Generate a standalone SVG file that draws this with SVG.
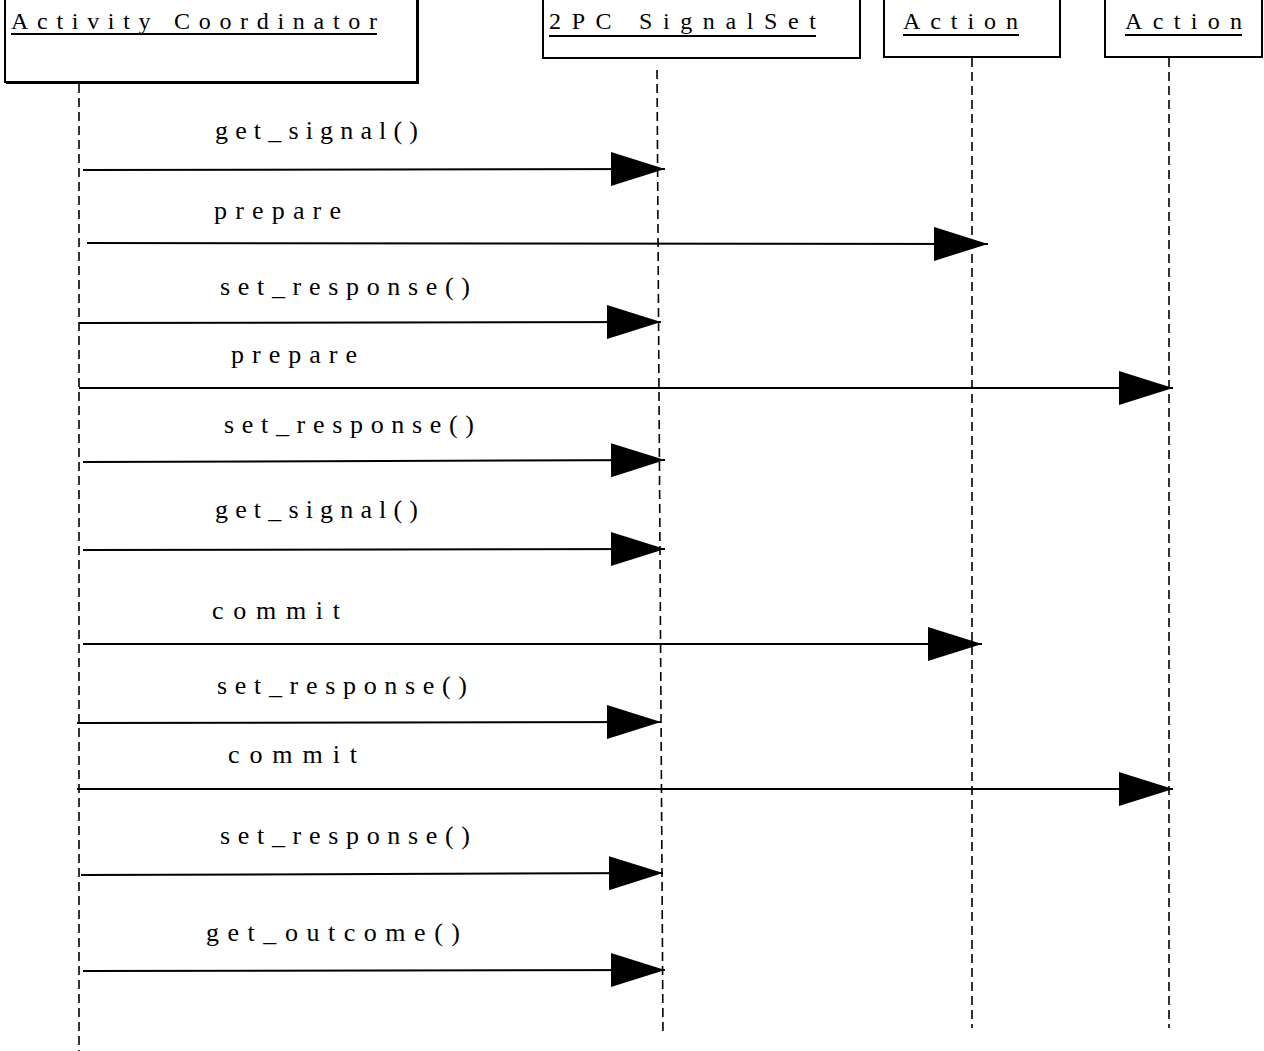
<svg xmlns="http://www.w3.org/2000/svg" width="1264" height="1051" viewBox="0 0 1264 1051">
<defs>
<style>
.box{fill:#fff;stroke:#000;stroke-width:2}
.shadow{stroke:#000;stroke-width:2;fill:none}
.t{font-family:"Liberation Serif","Times New Roman",serif;font-size:24px;fill:#000}
.l{font-family:"Liberation Serif","Times New Roman",serif;font-size:26px;fill:#000}
.ul{stroke:#000;stroke-width:2}
.life{stroke:#000;stroke-width:1.6;stroke-dasharray:9 5;fill:none}
.msg{stroke:#000;stroke-width:2;fill:none;marker-end:url(#ah)}
</style>
<marker id="ah" markerUnits="userSpaceOnUse" markerWidth="56" markerHeight="36" refX="54" refY="17" orient="auto">
<path d="M0,0 L54,17 L0,34 z" fill="#000"/>
</marker>
</defs>
<rect width="1264" height="1051" fill="#fff"/>
<g id="coordinator">
<rect class="box" x="5" y="-2" width="412" height="84"/>
<path class="shadow" d="M418,-2 V83 H6"/>
<text class="t" x="11" y="29" textLength="366" lengthAdjust="spacing">Activity Coordinator</text>
<line class="ul" x1="11" y1="34" x2="377" y2="34"/>
</g>
<g id="signalset">
<rect class="box" x="543" y="-2" width="317" height="60"/>
<text class="t" x="549" y="29" textLength="267" lengthAdjust="spacing">2PC SignalSet</text>
<line class="ul" x1="549" y1="36" x2="816" y2="36"/>
</g>
<g id="action1">
<rect class="box" x="884" y="-2" width="176" height="59"/>
<text class="t" x="903" y="29" textLength="115" lengthAdjust="spacing">Action</text>
<line class="ul" x1="903" y1="35" x2="1019" y2="35"/>
</g>
<g id="action2">
<rect class="box" x="1105" y="-2" width="157" height="59"/>
<text class="t" x="1125" y="29" textLength="117" lengthAdjust="spacing">Action</text>
<line class="ul" x1="1125" y1="35" x2="1242" y2="35"/>
</g>
<g id="lifelines">
<line class="life" x1="79" y1="84" x2="79" y2="1051"/>
<line class="life" x1="657" y1="70" x2="663" y2="1036"/>
<line class="life" x1="972" y1="58" x2="972" y2="1028"/>
<line class="life" x1="1169" y1="58" x2="1169" y2="1028"/>
</g>
<g id="connectors">
<line class="msg" x1="83" y1="170" x2="665" y2="169"/>
<line class="msg" x1="87" y1="243" x2="988" y2="244"/>
<line class="msg" x1="79" y1="323" x2="661" y2="322"/>
<line class="msg" x1="79" y1="388" x2="1173" y2="388"/>
<line class="msg" x1="83" y1="462" x2="665" y2="460"/>
<line class="msg" x1="83" y1="550" x2="665" y2="549"/>
<line class="msg" x1="83" y1="644" x2="982" y2="644"/>
<line class="msg" x1="77" y1="723" x2="661" y2="722"/>
<line class="msg" x1="77" y1="789" x2="1173" y2="789"/>
<line class="msg" x1="81" y1="875" x2="663" y2="873"/>
<line class="msg" x1="83" y1="971" x2="665" y2="970"/>
</g>
<g id="labels">
<text class="l" x="215" y="139" textLength="203" lengthAdjust="spacing">get_signal()</text>
<text class="l" x="214" y="219" textLength="127" lengthAdjust="spacing">prepare</text>
<text class="l" x="220" y="295" textLength="250" lengthAdjust="spacing">set_response()</text>
<text class="l" x="231" y="363" textLength="126" lengthAdjust="spacing">prepare</text>
<text class="l" x="224" y="433" textLength="250" lengthAdjust="spacing">set_response()</text>
<text class="l" x="215" y="518" textLength="203" lengthAdjust="spacing">get_signal()</text>
<text class="l" x="212" y="619" textLength="128" lengthAdjust="spacing">commit</text>
<text class="l" x="217" y="694" textLength="250" lengthAdjust="spacing">set_response()</text>
<text class="l" x="228" y="763" textLength="129" lengthAdjust="spacing">commit</text>
<text class="l" x="220" y="844" textLength="250" lengthAdjust="spacing">set_response()</text>
<text class="l" x="206" y="941" textLength="254" lengthAdjust="spacing">get_outcome()</text>
</g>
</svg>
